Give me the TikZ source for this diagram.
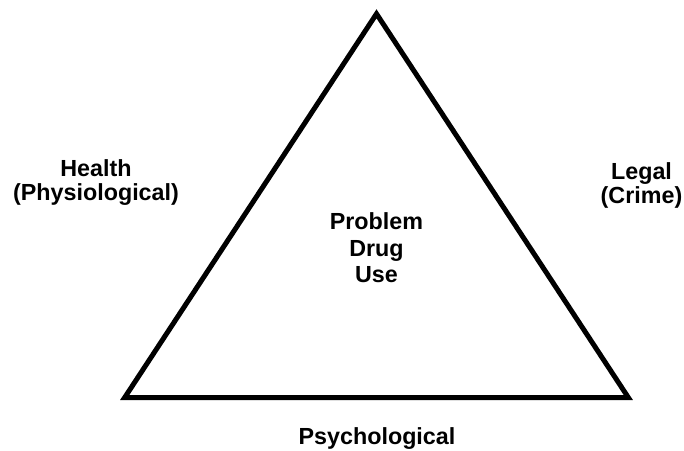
\documentclass[tikz,border=0pt]{standalone}
\usepackage{fontspec}
\setmainfont{Liberation Sans}
\begin{document}
\begin{tikzpicture}[x=1pt,y=-1pt,
  label text/.style={font={\bfseries\fontsize{23.3}{24}\selectfont}, align=center, inner sep=0pt},
  core text/.style={font={\bfseries\fontsize{23.3}{26.5}\selectfont}, align=center, inner sep=0pt},
  frame/.style={draw=black, line width=5pt, line join=miter}]
  \useasboundingbox (0,0) rectangle (684,450);

  % corners of the triangle
  \coordinate (top) at (376.5,13.8);
  \coordinate (left) at (124.7,397.5);
  \coordinate (right) at (628.3,397.5);
  \draw[frame] (top) -- (left) -- (right) -- cycle;

  % the four labels
  \node[core text] (core) at (376.5,247.9) {Problem\\Drug\\Use};
  \node[label text] (health) at (96,183) {Health\\(Physiological)};
  \node[label text] (legal) at (641.5,185) {Legal\\(Crime)};
  \node[label text, anchor=base] (psych) at (377,444) {Psychological};
\end{tikzpicture}
\end{document}
